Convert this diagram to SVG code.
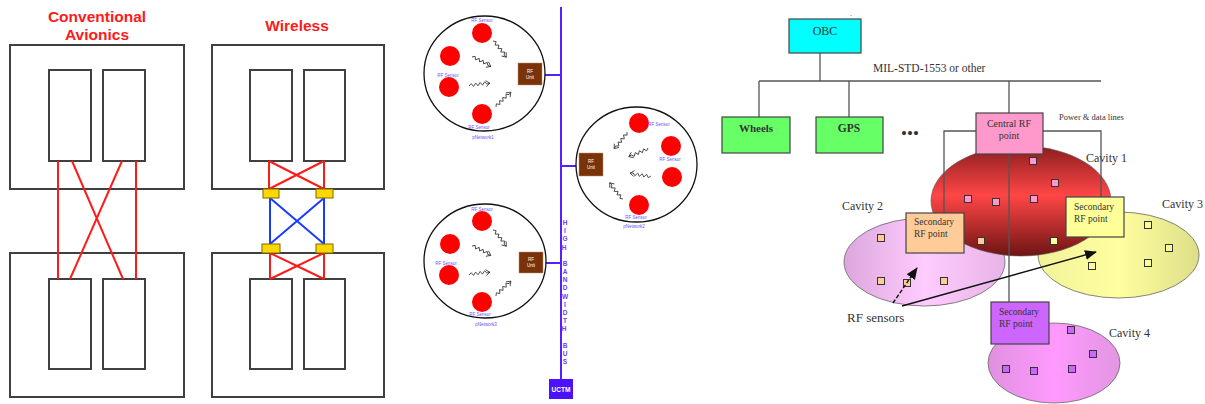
<svg xmlns="http://www.w3.org/2000/svg" width="1205" height="404" viewBox="0 0 1205 404">
<defs>
<style>
.box{fill:#fff;stroke:#404040;stroke-width:2}
.rl{stroke:#ff1a1a;stroke-width:2;fill:none}
.bl{stroke:#1a3cff;stroke-width:2;fill:none}
.yb{fill:#ffd700;stroke:#7a6a00;stroke-width:1}
.title{font-family:"Liberation Sans",Arial,sans-serif;font-weight:bold;font-size:15.5px;fill:#ff1a1a;text-anchor:middle}
.net{fill:#fff;stroke:#111;stroke-width:1.3}
.sen{fill:#ff0000}
.lab{font-family:"Liberation Sans",Arial,sans-serif;font-size:4.5px;fill:#6a50ff;text-anchor:middle}
.unit{fill:#7a3208;stroke:#c09070;stroke-width:0.5}
.ut{font-family:"Liberation Sans",Arial,sans-serif;font-size:4.5px;fill:#fff;text-anchor:middle}
.bus{stroke:#5522ff;stroke-width:2;fill:none}
.sq{fill:none;stroke:#333;stroke-width:0.8}
.ser{font-family:"Liberation Serif","Times New Roman",serif;fill:#333}
.ln{stroke:#555;stroke-width:1.3;fill:none}
.pt{stroke:#333;stroke-width:1}
.nb{stroke:#444;stroke-width:1.2}
</style>
<g id="squig">
<path class="sq" d="M0,0 l2.5,-2 l2,3 l2.5,-3 l2,3 l2.5,-3 l2,3 l2.5,-3 l2,2.5 L21,0 M17,-3 L21,0 L17,3"/>
</g>
<marker id="ah" markerUnits="userSpaceOnUse" markerWidth="12" markerHeight="10" refX="11" refY="5" orient="auto">
<path d="M0,0 L12,5 L0,10 z" fill="#111"/>
</marker>
<linearGradient id="g1" x1="0" y1="0" x2="0" y2="1">
<stop offset="0" stop-color="#8a1e1e"/>
<stop offset="0.45" stop-color="#ff4646"/>
<stop offset="1" stop-color="#6e1414"/>
</linearGradient>
<linearGradient id="g2" x1="0" y1="0" x2="1" y2="0">
<stop offset="0" stop-color="#dca6dc"/>
<stop offset="0.5" stop-color="#ffccff"/>
<stop offset="1" stop-color="#e8b4e8"/>
</linearGradient>
<linearGradient id="g3" x1="0" y1="0" x2="1" y2="0">
<stop offset="0" stop-color="#f2f29a"/>
<stop offset="0.5" stop-color="#ffffa0"/>
<stop offset="1" stop-color="#dede88"/>
</linearGradient>
<linearGradient id="g4" x1="0" y1="0" x2="1" y2="0">
<stop offset="0" stop-color="#e090e0"/>
<stop offset="0.5" stop-color="#ff99ff"/>
<stop offset="1" stop-color="#e296e2"/>
</linearGradient>
</defs>
<rect width="1205" height="404" fill="#fff"/>

<!-- Left panel: conventional -->
<g id="conventional">
<text class="title" x="97" y="22">Conventional</text>
<text class="title" x="97" y="40">Avionics</text>
<rect class="box" x="10" y="45" width="174" height="144"/>
<rect class="box" x="49" y="70" width="42" height="91"/>
<rect class="box" x="103" y="70" width="42" height="91"/>
<rect class="box" x="10" y="253" width="174" height="144"/>
<rect class="box" x="49" y="279" width="42" height="90"/>
<rect class="box" x="103" y="279" width="42" height="90"/>
</g>
<g id="conventional-wires">
<line class="rl" x1="58" y1="161" x2="58" y2="279"/>
<line class="rl" x1="136" y1="161" x2="136" y2="279"/>
<line class="rl" x1="72" y1="161" x2="123" y2="279"/>
<line class="rl" x1="122" y1="161" x2="70" y2="279"/>
</g>

<!-- Left panel: wireless -->
<g id="wireless">
<text class="title" x="297" y="31">Wireless</text>
<rect class="box" x="212" y="45" width="172" height="144"/>
<rect class="box" x="250" y="70" width="42" height="91"/>
<rect class="box" x="304" y="70" width="41" height="91"/>
<rect class="box" x="212" y="253" width="172" height="144"/>
<rect class="box" x="250" y="279" width="42" height="90"/>
<rect class="box" x="304" y="279" width="41" height="90"/>
</g>
<g id="wireless-links">
<path class="rl" d="M269,161 V189 M324,161 V189 M269,161 L324,189 M324,161 L269,189"/>
<path class="bl" d="M270,198 V244 M324,198 V244 M270,198 L324,244 M324,198 L270,244"/>
<path class="rl" d="M270,253 V279 M324,253 V279 M270,253 L324,279 M324,253 L270,279"/>
<rect class="yb" x="263" y="189" width="16" height="9"/>
<rect class="yb" x="316" y="189" width="17" height="9"/>
<rect class="yb" x="262" y="244" width="18" height="9"/>
<rect class="yb" x="316" y="244" width="17" height="9"/>
</g>

<!-- Middle panel -->
<g id="bus-lines">
<line class="bus" x1="561" y1="7" x2="561" y2="379"/>
<line class="bus" x1="542" y1="75" x2="561" y2="75"/>
<line class="bus" x1="561" y1="166" x2="579" y2="166"/>
<line class="bus" x1="543" y1="263" x2="561" y2="263"/>
</g>
<g id="bus-label">
<text font-family="'Liberation Sans',Arial,sans-serif" font-size="6.5" font-weight="bold" fill="#6a40ff" text-anchor="middle">
<tspan x="565" y="225">H</tspan><tspan x="565" dy="8.17">I</tspan><tspan x="565" dy="8.17">G</tspan><tspan x="565" dy="8.17">H</tspan>
<tspan x="565" dy="16.34">B</tspan><tspan x="565" dy="8.17">A</tspan><tspan x="565" dy="8.17">N</tspan><tspan x="565" dy="8.17">D</tspan><tspan x="565" dy="8.17">W</tspan><tspan x="565" dy="8.17">I</tspan><tspan x="565" dy="8.17">D</tspan><tspan x="565" dy="8.17">T</tspan><tspan x="565" dy="8.17">H</tspan>
<tspan x="565" dy="16.34">B</tspan><tspan x="565" dy="8.17">U</tspan><tspan x="565" dy="8.17">S</tspan>
</text>
</g>
<g id="uctm">
<rect x="549" y="379" width="24" height="20" fill="#4a12ff"/>
<text x="561" y="392" font-family="'Liberation Sans',Arial,sans-serif" font-size="6.5" font-weight="bold" fill="#fff" text-anchor="middle">UCTM</text>
</g>

<g id="pnetwork1">
<ellipse class="net" cx="484.5" cy="73.5" rx="60.5" ry="57.5"/>
<circle class="sen" cx="482" cy="33" r="10"/>
<circle class="sen" cx="450" cy="56" r="10"/>
<circle class="sen" cx="449" cy="87" r="10"/>
<circle class="sen" cx="482" cy="114" r="10"/>
<text class="lab" x="482" y="22">RF Sensor</text>
<text class="lab" x="448" y="76.5">RF Sensor</text>
<text class="lab" x="479" y="128.5">RF Sensor</text>
<text class="lab" x="483" y="138.5">pNetwork1</text>
<use href="#squig" transform="translate(493,41) rotate(50.5)"/>
<use href="#squig" transform="translate(472,57) rotate(26.6)"/>
<use href="#squig" transform="translate(469,86) rotate(-7.8)"/>
<use href="#squig" transform="translate(496,107) rotate(-45)"/>
<rect class="unit" x="518" y="63" width="24" height="22"/>
<text class="ut" x="530" y="72.5">RF</text>
<text class="ut" x="530" y="78.5">Unit</text>
</g>

<g id="pnetwork2">
<ellipse class="net" cx="636.5" cy="164.5" rx="60.5" ry="57.5"/>
<circle class="sen" cx="639" cy="123" r="10"/>
<circle class="sen" cx="671" cy="146" r="10"/>
<circle class="sen" cx="672" cy="177" r="10"/>
<circle class="sen" cx="639" cy="205" r="10"/>
<text class="lab" x="659" y="125.5" text-anchor="start">RF Sensor</text>
<text class="lab" x="670" y="160.5">RF Sensor</text>
<text class="lab" x="636" y="218.5">RF Sensor</text>
<text class="lab" x="634" y="227.5">pNetwork2</text>
<use href="#squig" transform="translate(627,132) rotate(127.4)"/>
<use href="#squig" transform="translate(648,148) rotate(155.8)"/>
<use href="#squig" transform="translate(651,176) rotate(188.1)"/>
<use href="#squig" transform="translate(623,199) rotate(230.5)"/>
<rect class="unit" x="579" y="153" width="24" height="23"/>
<text class="ut" x="591" y="163">RF</text>
<text class="ut" x="591" y="169">Unit</text>
</g>

<g id="pnetwork3">
<ellipse class="net" cx="485" cy="261" rx="61" ry="57"/>
<circle class="sen" cx="482" cy="221" r="10"/>
<circle class="sen" cx="450" cy="244" r="10"/>
<circle class="sen" cx="449" cy="275" r="10"/>
<circle class="sen" cx="482" cy="302" r="10"/>
<text class="lab" x="482" y="210.5">RF Sensor</text>
<text class="lab" x="446" y="264.5">RF Sensor</text>
<text class="lab" x="480" y="315.5">RF Sensor</text>
<text class="lab" x="486" y="325.5">pNetwork3</text>
<use href="#squig" transform="translate(493,230) rotate(50.5)"/>
<use href="#squig" transform="translate(472,246) rotate(26.6)"/>
<use href="#squig" transform="translate(469,275) rotate(-7.8)"/>
<use href="#squig" transform="translate(496,296) rotate(-45)"/>
<rect class="unit" x="519" y="252" width="24" height="21"/>
<text class="ut" x="531" y="261">RF</text>
<text class="ut" x="531" y="267">Unit</text>
</g>

<!-- Right panel -->
<g id="cavity2">
<ellipse cx="924.5" cy="262" rx="80.5" ry="44" fill="url(#g2)" stroke="#666" stroke-width="0.8"/>
<text class="ser" x="842" y="210" font-size="12">Cavity 2</text>
<rect class="pt" x="877.5" y="234.5" width="7" height="7" fill="#ffcc99"/>
<rect class="pt" x="877.5" y="277.5" width="7" height="7" fill="#ffcc99"/>
<rect class="pt" x="903.5" y="279.5" width="7" height="7" fill="#ffcc99"/>
<rect class="pt" x="940.5" y="277.5" width="7" height="7" fill="#ffcc99"/>
</g>
<g id="cavity3">
<ellipse cx="1118.5" cy="255" rx="80.5" ry="43" fill="url(#g3)" stroke="#666" stroke-width="0.8"/>
<text class="ser" x="1162" y="208" font-size="12">Cavity 3</text>
<rect class="pt" x="1144.5" y="221.5" width="7" height="7" fill="#ffff99"/>
<rect class="pt" x="1165.5" y="244.5" width="7" height="7" fill="#ffff99"/>
<rect class="pt" x="1144.5" y="259.5" width="7" height="7" fill="#ffff99"/>
<rect class="pt" x="1088.5" y="262.5" width="7" height="7" fill="#ffff99"/>
</g>
<g id="cavity1">
<ellipse cx="1021" cy="201" rx="90" ry="55" fill="url(#g1)" stroke="#555" stroke-width="0.6"/>
<text class="ser" x="1086" y="162" font-size="12">Cavity 1</text>
<rect class="pt" x="1029.5" y="157.5" width="7" height="7" fill="#ff99cc"/>
<rect class="pt" x="1051.5" y="179.5" width="7" height="7" fill="#ff99cc"/>
<rect class="pt" x="964.5" y="195.5" width="7" height="7" fill="#ff99cc"/>
<rect class="pt" x="992.5" y="198.5" width="7" height="7" fill="#ff99cc"/>
<rect class="pt" x="1030.5" y="195.5" width="7" height="7" fill="#ff99cc"/>
<rect class="pt" x="977.5" y="237.5" width="7" height="7" fill="#ffcc99"/>
<rect class="pt" x="1050.5" y="237.5" width="7" height="7" fill="#ffff99"/>
</g>
<g id="cavity4">
<ellipse cx="1054" cy="363" rx="66" ry="40" fill="url(#g4)" stroke="#666" stroke-width="0.8"/>
<text class="ser" x="1109" y="337" font-size="12">Cavity 4</text>
<rect class="pt" x="1067.5" y="326.5" width="7" height="7" fill="#cc66ff"/>
<rect class="pt" x="1089.5" y="350.5" width="7" height="7" fill="#cc66ff"/>
<rect class="pt" x="1002.5" y="365.5" width="7" height="7" fill="#cc66ff"/>
<rect class="pt" x="1030.5" y="367.5" width="7" height="7" fill="#cc66ff"/>
<rect class="pt" x="1068.5" y="365.5" width="7" height="7" fill="#cc66ff"/>
</g>

<g id="connectors">
<path class="ln" d="M820,53 V81 M759,81 H1101 M759,81 V117 M849,81 V117 M1009,81 V113"/>
<path class="ln" d="M976,131 H944 V213 M1043,131 H1101 V197 M1009,154 V302" stroke-width="1"/>
<line x1="893" y1="303" x2="917" y2="268" stroke="#111" stroke-width="1.4" stroke-dasharray="4,2" marker-end="url(#ah)"/>
<line x1="902" y1="306" x2="1096" y2="252" stroke="#111" stroke-width="1.4" marker-end="url(#ah)"/>
</g>

<g id="obc">
<rect class="nb" x="789" y="19" width="72" height="34" fill="#00ffff"/>
<text class="ser" x="825" y="35" font-size="12" text-anchor="middle">OBC</text>
<text class="ser" x="850" y="16" font-size="8">.</text>
</g>
<text class="ser" x="873" y="72" font-size="11.5">MIL-STD-1553 or other</text>
<g id="wheels">
<rect class="nb" x="722" y="117" width="68" height="36" fill="#66ff66"/>
<text class="ser" x="756" y="132" font-size="11" font-weight="bold" text-anchor="middle">Wheels</text>
</g>
<g id="gps">
<rect class="nb" x="816" y="117" width="67" height="36" fill="#66ff66"/>
<text class="ser" x="849" y="132" font-size="11.5" font-weight="bold" text-anchor="middle">GPS</text>
</g>
<text class="ser" x="910" y="138.5" font-size="17" text-anchor="middle" fill="#111">•••</text>
<g id="central-rf">
<rect class="nb" x="976" y="113" width="67" height="41" fill="#ff99cc"/>
<text class="ser" x="1009" y="127" font-size="10" text-anchor="middle">Central RF</text>
<text class="ser" x="1009" y="139" font-size="10" text-anchor="middle">point</text>
</g>
<text class="ser" x="1059" y="120" font-size="8.5">Power &amp; data lines</text>
<g id="secondary2">
<rect class="nb" x="906" y="213" width="58" height="40" fill="#ffcc99"/>
<text class="ser" x="914" y="225" font-size="9.5">Secondary</text>
<text class="ser" x="914" y="237" font-size="9.5">RF point</text>
</g>
<g id="secondary3">
<rect class="nb" x="1066" y="197" width="58" height="40" fill="#ffff99"/>
<text class="ser" x="1074" y="210" font-size="9.5">Secondary</text>
<text class="ser" x="1074" y="222" font-size="9.5">RF point</text>
</g>
<g id="secondary4">
<rect class="nb" x="991" y="302" width="58" height="42" fill="#cc66ff"/>
<text class="ser" x="999" y="315" font-size="9.5">Secondary</text>
<text class="ser" x="999" y="327" font-size="9.5">RF point</text>
</g>
<text class="ser" x="847" y="322" font-size="13" fill="#444">RF sensors</text>
</svg>
